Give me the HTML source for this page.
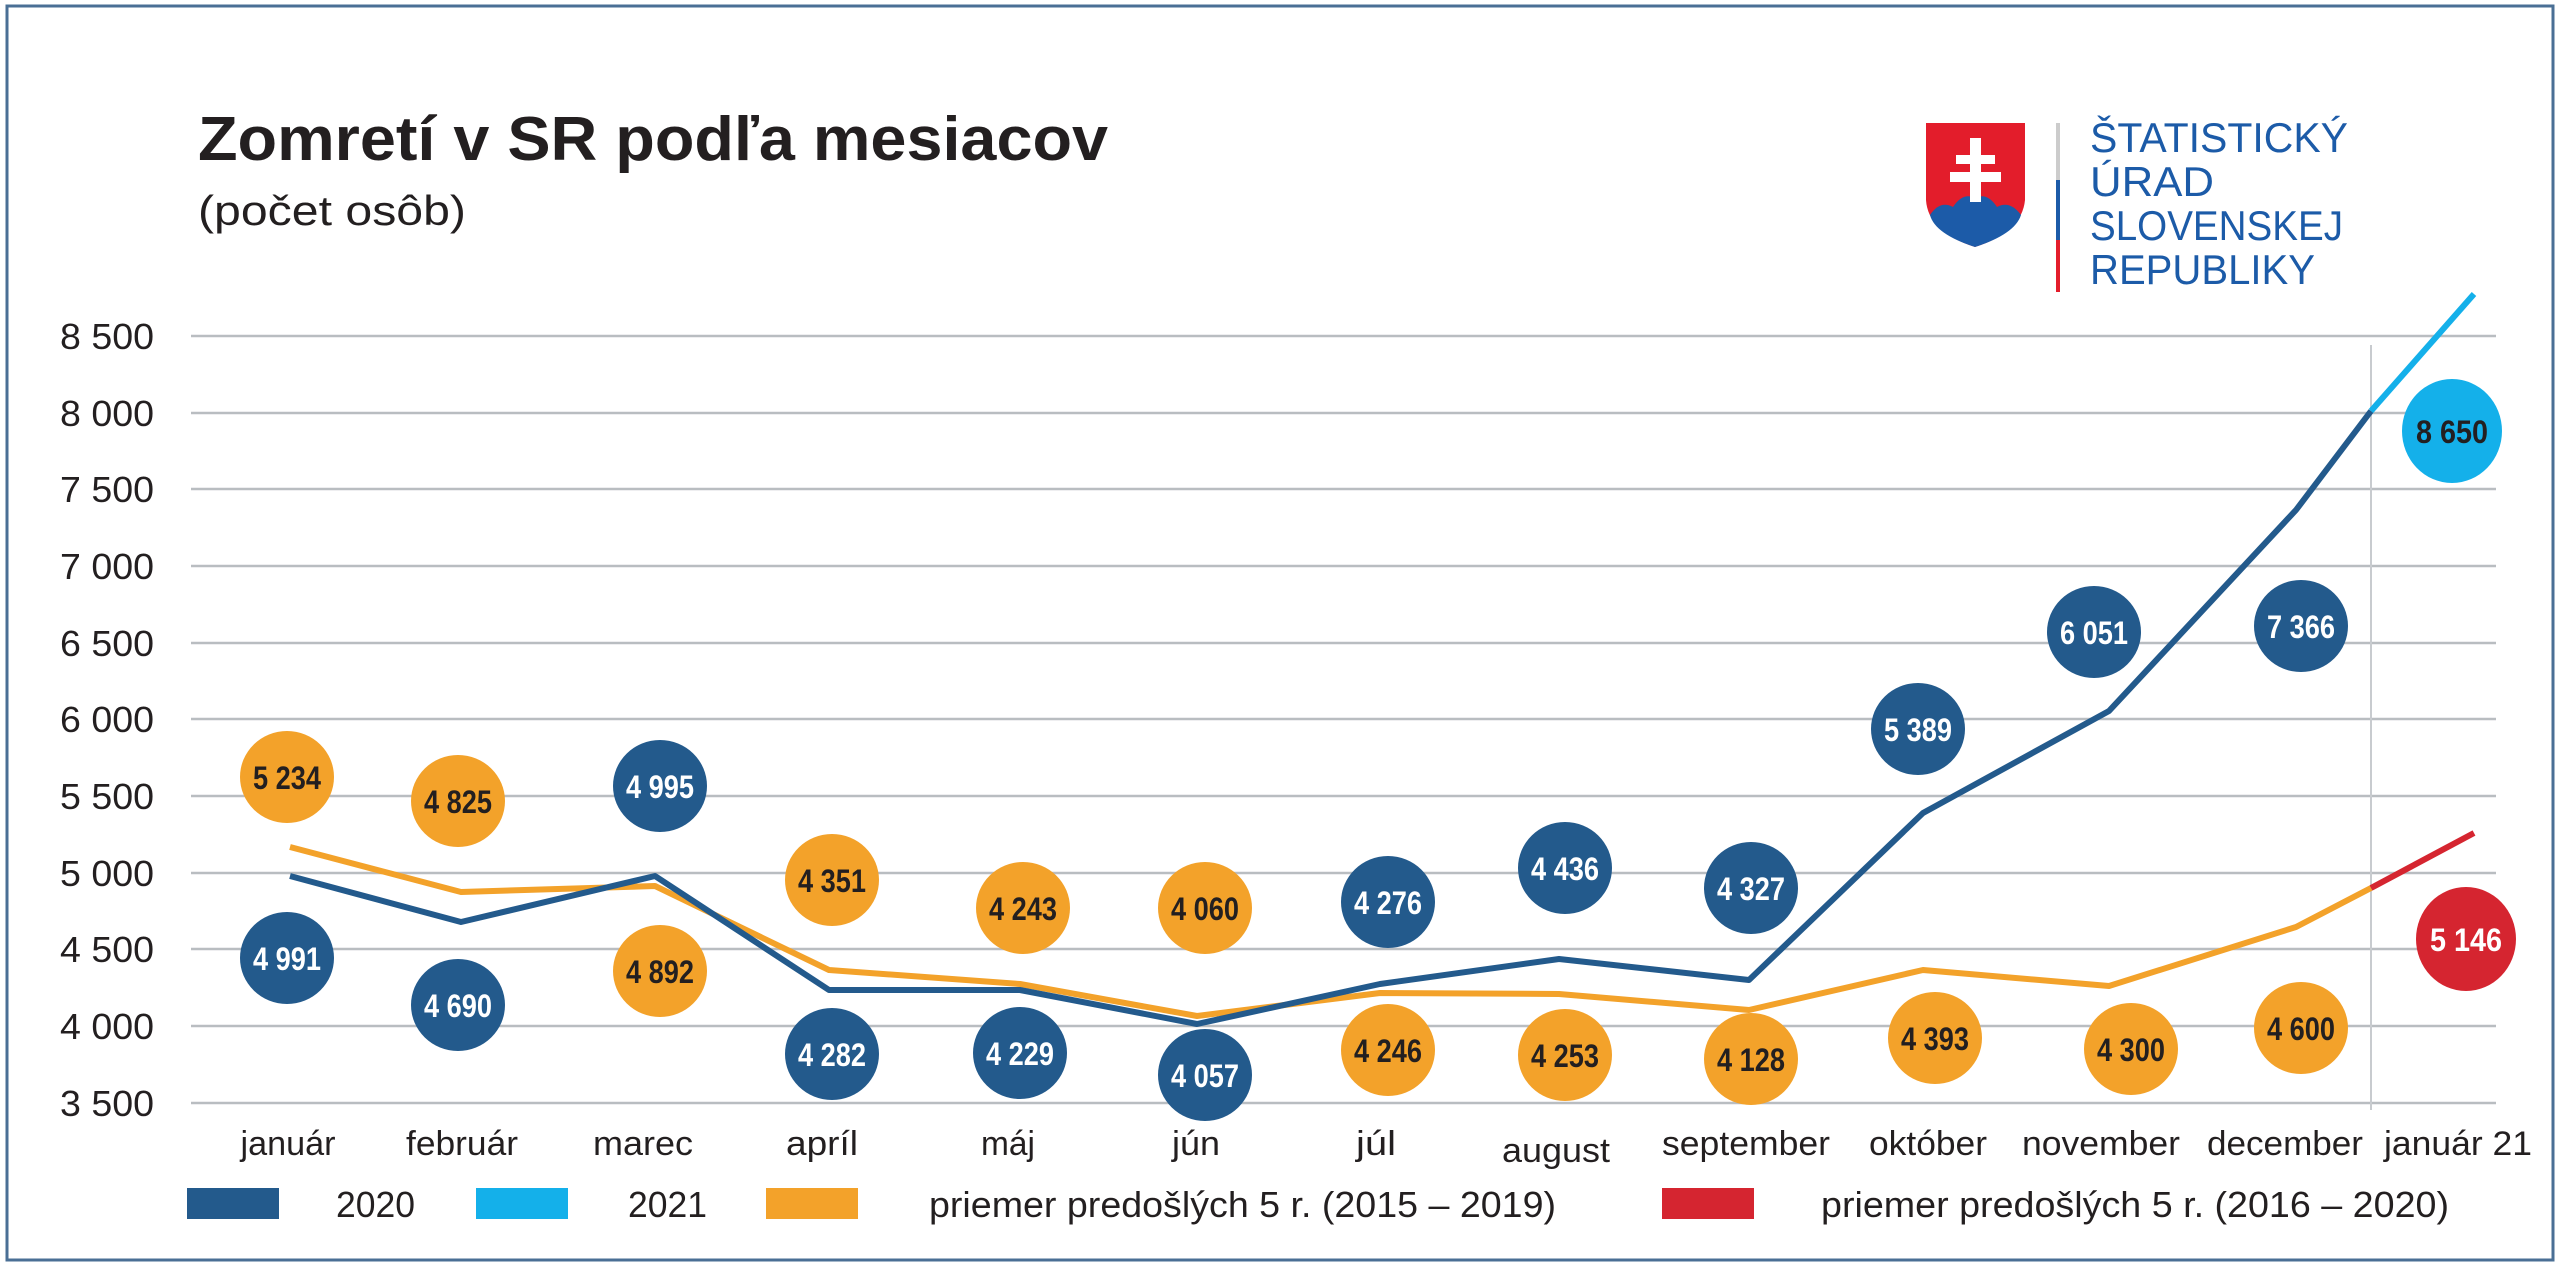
<!DOCTYPE html>
<html><head><meta charset="utf-8"><style>
html,body{margin:0;padding:0;background:#fff;}
svg{display:block;font-family:"Liberation Sans",sans-serif;}
</style></head><body>
<svg width="2560" height="1268" viewBox="0 0 2560 1268" xmlns="http://www.w3.org/2000/svg">
<rect x="0" y="0" width="2560" height="1268" fill="#fff"/>
<rect x="7" y="6" width="2546" height="1254" fill="none" stroke="#4a6f95" stroke-width="3"/>

<!-- title -->
<text x="198" y="160" font-size="62" font-weight="bold" fill="#231f20" textLength="910" lengthAdjust="spacingAndGlyphs">Zomretí v SR podľa mesiacov</text>
<text x="198" y="225" font-size="42" fill="#231f20" textLength="268" lengthAdjust="spacingAndGlyphs">(počet osôb)</text>

<!-- logo -->
<path d="M1926 123 L2025 123 L2025 200 Q2022 232 1975 247 Q1928 232 1926 200 Z" fill="#e31d2b"/>
<path d="M1930 215 Q1940 200 1953 207 Q1963 192 1975 198 Q1987 192 1997 207 Q2010 200 2021 215 Q2015 234 1975 247 Q1935 234 1930 215 Z" fill="#1c5ba8"/>
<rect x="1970" y="138" width="11" height="64" fill="#fff"/>
<rect x="1956" y="155" width="39" height="9" fill="#fff"/>
<rect x="1950" y="172" width="51" height="10" fill="#fff"/>
<rect x="2056" y="123" width="4" height="57" fill="#ccc"/>
<rect x="2056" y="180" width="4" height="60" fill="#1c5ba8"/>
<rect x="2056" y="240" width="4" height="52" fill="#e31d2b"/>
<g fill="#1c5ba8" font-size="42">
<text x="2090" y="152" textLength="258" lengthAdjust="spacingAndGlyphs">ŠTATISTICKÝ</text>
<text x="2090" y="196" textLength="124" lengthAdjust="spacingAndGlyphs">ÚRAD</text>
<text x="2090" y="240" textLength="253" lengthAdjust="spacingAndGlyphs">SLOVENSKEJ</text>
<text x="2090" y="284" textLength="225" lengthAdjust="spacingAndGlyphs">REPUBLIKY</text>
</g>

<!-- grid -->
<g stroke="#b9bdc1" stroke-width="2.5">
<line x1="191" x2="2496" y1="336" y2="336"/>
<line x1="191" x2="2496" y1="413" y2="413"/>
<line x1="191" x2="2496" y1="489" y2="489"/>
<line x1="191" x2="2496" y1="566" y2="566"/>
<line x1="191" x2="2496" y1="643" y2="643"/>
<line x1="191" x2="2496" y1="719" y2="719"/>
<line x1="191" x2="2496" y1="796" y2="796"/>
<line x1="191" x2="2496" y1="873" y2="873"/>
<line x1="191" x2="2496" y1="949" y2="949"/>
<line x1="191" x2="2496" y1="1026" y2="1026"/>
<line x1="191" x2="2496" y1="1103" y2="1103"/>
</g>
<line x1="2371" x2="2371" y1="345" y2="1110" stroke="#c8cbcf" stroke-width="2"/>

<g font-size="36" fill="#231f20" text-anchor="end">
<text x="154" y="349" textLength="94" lengthAdjust="spacingAndGlyphs">8 500</text>
<text x="154" y="426" textLength="94" lengthAdjust="spacingAndGlyphs">8 000</text>
<text x="154" y="502" textLength="94" lengthAdjust="spacingAndGlyphs">7 500</text>
<text x="154" y="579" textLength="94" lengthAdjust="spacingAndGlyphs">7 000</text>
<text x="154" y="656" textLength="94" lengthAdjust="spacingAndGlyphs">6 500</text>
<text x="154" y="732" textLength="94" lengthAdjust="spacingAndGlyphs">6 000</text>
<text x="154" y="809" textLength="94" lengthAdjust="spacingAndGlyphs">5 500</text>
<text x="154" y="886" textLength="94" lengthAdjust="spacingAndGlyphs">5 000</text>
<text x="154" y="962" textLength="94" lengthAdjust="spacingAndGlyphs">4 500</text>
<text x="154" y="1039" textLength="94" lengthAdjust="spacingAndGlyphs">4 000</text>
<text x="154" y="1116" textLength="94" lengthAdjust="spacingAndGlyphs">3 500</text>
</g>

<!-- lines -->
<polyline fill="none" stroke="#f3a22a" stroke-width="6" stroke-linejoin="round" points="290,847 461,892 655,886 829,970 1020,984 1197,1016 1380,993 1559,994 1749,1010 1923,970 2109,986 2296,927 2371,888"/>
<polyline fill="none" stroke="#d52530" stroke-width="6" points="2371,888 2474,833"/>
<polyline fill="none" stroke="#235a8c" stroke-width="6" stroke-linejoin="round" points="290,876 461,922 655,876 829,990 1020,990 1197,1024 1380,984 1559,959 1749,980 1923,813 2109,711 2296,510 2371,411"/>
<polyline fill="none" stroke="#14b0ea" stroke-width="6" points="2371,411 2474,294"/>

<!-- bubbles -->
<g font-size="32" font-weight="bold" text-anchor="middle">
<g fill="#f3a22a">
<ellipse cx="287" cy="777" rx="47" ry="46"/><ellipse cx="458" cy="801" rx="47" ry="46"/><ellipse cx="660" cy="971" rx="47" ry="46"/>
<ellipse cx="832" cy="880" rx="47" ry="46"/><ellipse cx="1023" cy="908" rx="47" ry="46"/><ellipse cx="1205" cy="908" rx="47" ry="46"/>
<ellipse cx="1388" cy="1050" rx="47" ry="46"/><ellipse cx="1565" cy="1055" rx="47" ry="46"/><ellipse cx="1751" cy="1059" rx="47" ry="46"/>
<ellipse cx="1935" cy="1038" rx="47" ry="46"/><ellipse cx="2131" cy="1049" rx="47" ry="46"/><ellipse cx="2301" cy="1028" rx="47" ry="46"/>
</g>
<g fill="#235a8c">
<ellipse cx="287" cy="958" rx="47" ry="46"/><ellipse cx="458" cy="1005" rx="47" ry="46"/><ellipse cx="660" cy="786" rx="47" ry="46"/>
<ellipse cx="832" cy="1054" rx="47" ry="46"/><ellipse cx="1020" cy="1053" rx="47" ry="46"/><ellipse cx="1205" cy="1075" rx="47" ry="46"/>
<ellipse cx="1388" cy="902" rx="47" ry="46"/><ellipse cx="1565" cy="868" rx="47" ry="46"/><ellipse cx="1751" cy="888" rx="47" ry="46"/>
<ellipse cx="1918" cy="729" rx="47" ry="46"/><ellipse cx="2094" cy="632" rx="47" ry="46"/><ellipse cx="2301" cy="626" rx="47" ry="46"/>
</g>
<ellipse cx="2452" cy="431" rx="50" ry="52" fill="#14b0ea"/>
<ellipse cx="2466" cy="939" rx="50" ry="52" fill="#d52530"/>
<g fill="#231f20">
<text x="287" y="789" textLength="68" lengthAdjust="spacingAndGlyphs">5 234</text>
<text x="458" y="813" textLength="68" lengthAdjust="spacingAndGlyphs">4 825</text>
<text x="660" y="983" textLength="68" lengthAdjust="spacingAndGlyphs">4 892</text>
<text x="832" y="892" textLength="68" lengthAdjust="spacingAndGlyphs">4 351</text>
<text x="1023" y="920" textLength="68" lengthAdjust="spacingAndGlyphs">4 243</text>
<text x="1205" y="920" textLength="68" lengthAdjust="spacingAndGlyphs">4 060</text>
<text x="1388" y="1062" textLength="68" lengthAdjust="spacingAndGlyphs">4 246</text>
<text x="1565" y="1067" textLength="68" lengthAdjust="spacingAndGlyphs">4 253</text>
<text x="1751" y="1071" textLength="68" lengthAdjust="spacingAndGlyphs">4 128</text>
<text x="1935" y="1050" textLength="68" lengthAdjust="spacingAndGlyphs">4 393</text>
<text x="2131" y="1061" textLength="68" lengthAdjust="spacingAndGlyphs">4 300</text>
<text x="2301" y="1040" textLength="68" lengthAdjust="spacingAndGlyphs">4 600</text>
<text x="2452" y="443" textLength="72" lengthAdjust="spacingAndGlyphs">8 650</text>
</g>
<g fill="#fff">
<text x="287" y="970" textLength="68" lengthAdjust="spacingAndGlyphs">4 991</text>
<text x="458" y="1017" textLength="68" lengthAdjust="spacingAndGlyphs">4 690</text>
<text x="660" y="798" textLength="68" lengthAdjust="spacingAndGlyphs">4 995</text>
<text x="832" y="1066" textLength="68" lengthAdjust="spacingAndGlyphs">4 282</text>
<text x="1020" y="1065" textLength="68" lengthAdjust="spacingAndGlyphs">4 229</text>
<text x="1205" y="1087" textLength="68" lengthAdjust="spacingAndGlyphs">4 057</text>
<text x="1388" y="914" textLength="68" lengthAdjust="spacingAndGlyphs">4 276</text>
<text x="1565" y="880" textLength="68" lengthAdjust="spacingAndGlyphs">4 436</text>
<text x="1751" y="900" textLength="68" lengthAdjust="spacingAndGlyphs">4 327</text>
<text x="1918" y="741" textLength="68" lengthAdjust="spacingAndGlyphs">5 389</text>
<text x="2094" y="644" textLength="68" lengthAdjust="spacingAndGlyphs">6 051</text>
<text x="2301" y="638" textLength="68" lengthAdjust="spacingAndGlyphs">7 366</text>
<text x="2466" y="951" textLength="72" lengthAdjust="spacingAndGlyphs">5 146</text>
</g>
</g>

<!-- month labels -->
<g font-size="34" fill="#231f20" text-anchor="middle">
<text x="288" y="1155" textLength="95" lengthAdjust="spacingAndGlyphs">január</text>
<text x="462" y="1155" textLength="112" lengthAdjust="spacingAndGlyphs">február</text>
<text x="643" y="1155" textLength="100" lengthAdjust="spacingAndGlyphs">marec</text>
<text x="822" y="1155" textLength="72" lengthAdjust="spacingAndGlyphs">apríl</text>
<text x="1008" y="1155" textLength="54" lengthAdjust="spacingAndGlyphs">máj</text>
<text x="1196" y="1155" textLength="48" lengthAdjust="spacingAndGlyphs">jún</text>
<text x="1376" y="1155" textLength="40" lengthAdjust="spacingAndGlyphs">júl</text>
<text x="1556" y="1162" textLength="108" lengthAdjust="spacingAndGlyphs">august</text>
<text x="1746" y="1155" textLength="168" lengthAdjust="spacingAndGlyphs">september</text>
<text x="1928" y="1155" textLength="118" lengthAdjust="spacingAndGlyphs">október</text>
<text x="2101" y="1155" textLength="158" lengthAdjust="spacingAndGlyphs">november</text>
<text x="2285" y="1155" textLength="156" lengthAdjust="spacingAndGlyphs">december</text>
<text x="2458" y="1155" textLength="148" lengthAdjust="spacingAndGlyphs">január 21</text>
</g>

<!-- legend -->
<rect x="187" y="1188" width="92" height="31" fill="#235a8c"/>
<rect x="476" y="1188" width="92" height="31" fill="#14b0ea"/>
<rect x="766" y="1188" width="92" height="31" fill="#f3a22a"/>
<rect x="1662" y="1188" width="92" height="31" fill="#d52530"/>
<g font-size="36" fill="#231f20">
<text x="336" y="1217" textLength="79" lengthAdjust="spacingAndGlyphs">2020</text>
<text x="628" y="1217" textLength="79" lengthAdjust="spacingAndGlyphs">2021</text>
<text x="929" y="1217" textLength="627" lengthAdjust="spacingAndGlyphs">priemer predošlých 5 r. (2015 – 2019)</text>
<text x="1821" y="1217" textLength="628" lengthAdjust="spacingAndGlyphs">priemer predošlých 5 r. (2016 – 2020)</text>
</g>
</svg>
</body></html>
